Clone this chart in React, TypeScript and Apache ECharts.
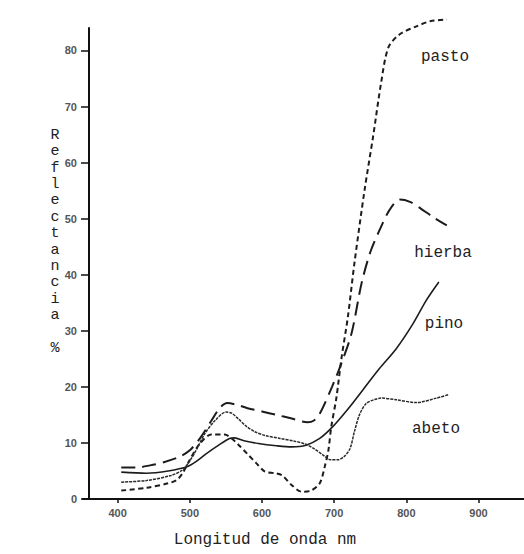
import React, { useEffect, useRef } from "react";
import * as echarts from "echarts";

// Wavelength (nm) and reflectance (%)
const pastoNm = [405, 440, 470, 482, 490, 500, 514, 530, 548, 558, 568, 580, 592, 604, 618, 628, 641, 655, 668, 680, 687, 692, 696, 703, 710, 719, 728, 742, 754, 765, 775, 790, 814, 833, 856];
const pastoVal = [1.5, 2.0, 2.8, 3.4, 4.6, 7, 9.9, 11.5, 11.5, 10.8, 9.6, 8, 6.4, 4.9, 4.6, 4.2, 2.5, 1.3, 1.5, 2.8, 5.8, 8.7, 12.9, 18, 25, 32.5, 42, 55, 64.7, 74.2, 80.5, 82.8, 84.3, 85.2, 85.5];

const hierbaNm = [405, 425, 445, 465, 485, 500, 515, 530, 542, 552, 565, 580, 600, 620, 640, 663, 672, 680, 697, 710, 724, 738, 750, 763, 777, 791, 805, 820, 838, 856];
const hierbaVal = [5.6, 5.6, 6, 6.6, 7.5, 8.7, 11, 14, 16.3, 17.1, 16.8, 16.2, 15.6, 15, 14.4, 13.7, 14, 15.2, 20, 24.2, 29.5, 38.5, 44, 48, 51.6, 53.4, 53, 51.8, 50.2, 48.8];

const pinoNm = [405, 440, 470, 497, 510, 523, 540, 555, 562, 575, 595, 620, 641, 661, 680, 698, 720, 740, 763, 786, 808, 828, 845];
const pinoVal = [4.8, 4.6, 5, 5.8, 6.8, 8.1, 9.6, 10.8, 10.9, 10.4, 9.9, 9.5, 9.3, 9.6, 10.8, 12.9, 16.2, 19.5, 23.3, 26.8, 31, 35.5, 38.7];

const abetoNm = [405, 440, 474, 490, 500, 510, 521, 535, 550, 558, 568, 578, 590, 605, 625, 645, 660, 672, 685, 695, 705, 714, 722, 728, 735, 744, 755, 765, 786, 814, 842, 858];
const abetoVal = [3.0, 3.3, 4.2, 5.2, 6.8, 9, 11.7, 14, 15.5, 15.3, 14.2, 13, 12, 11.3, 10.8, 10.3, 9.8, 9, 7.8, 7, 7, 7.6, 9, 12, 15, 17, 17.7, 18, 17.7, 17.2, 18, 18.6];

const xTicks = [400, 500, 600, 700, 800, 900];
const yTicks = [0, 10, 20, 30, 40, 50, 60, 70, 80];

const seriesNames = ["pasto", "hierba", "pino", "abeto"];
const xTitle = "Longitud de onda nm";
const yTitle = "Reflectancia\n\n%";

const zip = (xs: number[], ys: number[]) => xs.map((x, i) => [x, ys[i]]);

export default function App() {
  const ref = useRef<HTMLDivElement>(null);
  useEffect(() => {
    if (!ref.current) return;
    const chart = echarts.init(ref.current, undefined, { renderer: "svg" });
    const mono = "'Liberation Mono', 'DejaVu Sans Mono', monospace";
    const lineColor = "#1c1c1c";
    chart.setOption({
      animation: false,
      backgroundColor: "#ffffff",
      grid: { left: 83, right: 0, top: 28, bottom: 55 },
      xAxis: {
        type: "value",
        min: 352,
        max: 963,
        axisLine: { show: true, lineStyle: { color: "#111", width: 2 } },
        axisTick: { show: true, length: 4, customValues: xTicks, lineStyle: { color: "#111", width: 1.5 } },
        axisLabel: {
          customValues: xTicks,
          margin: 8,
          fontSize: 11,
          fontWeight: "bold",
          color: "#555",
          fontFamily: "'Liberation Sans', Arial, sans-serif",
        },
        splitLine: { show: false },
      },
      yAxis: {
        type: "value",
        min: 0,
        max: 84,
        offset: -6,
        axisLine: { show: true, lineStyle: { color: "#111", width: 2 } },
        axisTick: { show: true, length: 8, customValues: yTicks, lineStyle: { color: "#111", width: 1.5 } },
        axisLabel: {
          customValues: yTicks,
          margin: 12,
          fontSize: 11,
          fontWeight: "bold",
          color: "#555",
          fontFamily: "'Liberation Sans', Arial, sans-serif",
        },
        splitLine: { show: false },
      },
      series: [
        {
          name: seriesNames[0],
          type: "line",
          data: zip(pastoNm, pastoVal),
          showSymbol: false,
          smooth: 0.3,
          clip: false,
          lineStyle: { color: lineColor, width: 2, type: [5, 3.5] },
        },
        {
          name: seriesNames[1],
          type: "line",
          data: zip(hierbaNm, hierbaVal),
          showSymbol: false,
          smooth: 0.3,
          clip: false,
          lineStyle: { color: lineColor, width: 2, type: [14, 7] },
        },
        {
          name: seriesNames[2],
          type: "line",
          data: zip(pinoNm, pinoVal),
          showSymbol: false,
          smooth: 0.3,
          clip: false,
          lineStyle: { color: lineColor, width: 1.6, type: "solid" },
        },
        {
          name: seriesNames[3],
          type: "line",
          data: zip(abetoNm, abetoVal),
          showSymbol: false,
          smooth: 0.3,
          clip: false,
          lineStyle: { color: "#2a2a2a", width: 1.5, type: [3, 1] },
        },
      ],
      graphic: [
        { type: "text", x: 445, y: 57, style: { text: seriesNames[0], font: `16px ${mono}`, fill: "#222", align: "center", verticalAlign: "middle" } },
        { type: "text", x: 443, y: 253, style: { text: seriesNames[1], font: `16px ${mono}`, fill: "#222", align: "center", verticalAlign: "middle" } },
        { type: "text", x: 444, y: 324, style: { text: seriesNames[2], font: `16px ${mono}`, fill: "#222", align: "center", verticalAlign: "middle" } },
        { type: "text", x: 436, y: 429, style: { text: seriesNames[3], font: `16px ${mono}`, fill: "#222", align: "center", verticalAlign: "middle" } },
        { type: "text", x: 265, y: 540, style: { text: xTitle, font: `16px ${mono}`, fill: "#222", align: "center", verticalAlign: "middle" } },
        {
          type: "text",
          x: 55,
          y: 127,
          style: {
            text: yTitle.split("\n").map((w) => (w ? w.split("").join("\n") : "")).join("\n"),
            font: `15px ${mono}`,
            lineHeight: 16.4,
            fill: "#222",
            align: "center",
            verticalAlign: "top",
          },
        },
      ],
    });
    return () => chart.dispose();
  }, []);
  return <div ref={ref} style={{ position: "fixed", left: 0, top: 0, width: 524, height: 554, background: "#fff" }} />;
}
